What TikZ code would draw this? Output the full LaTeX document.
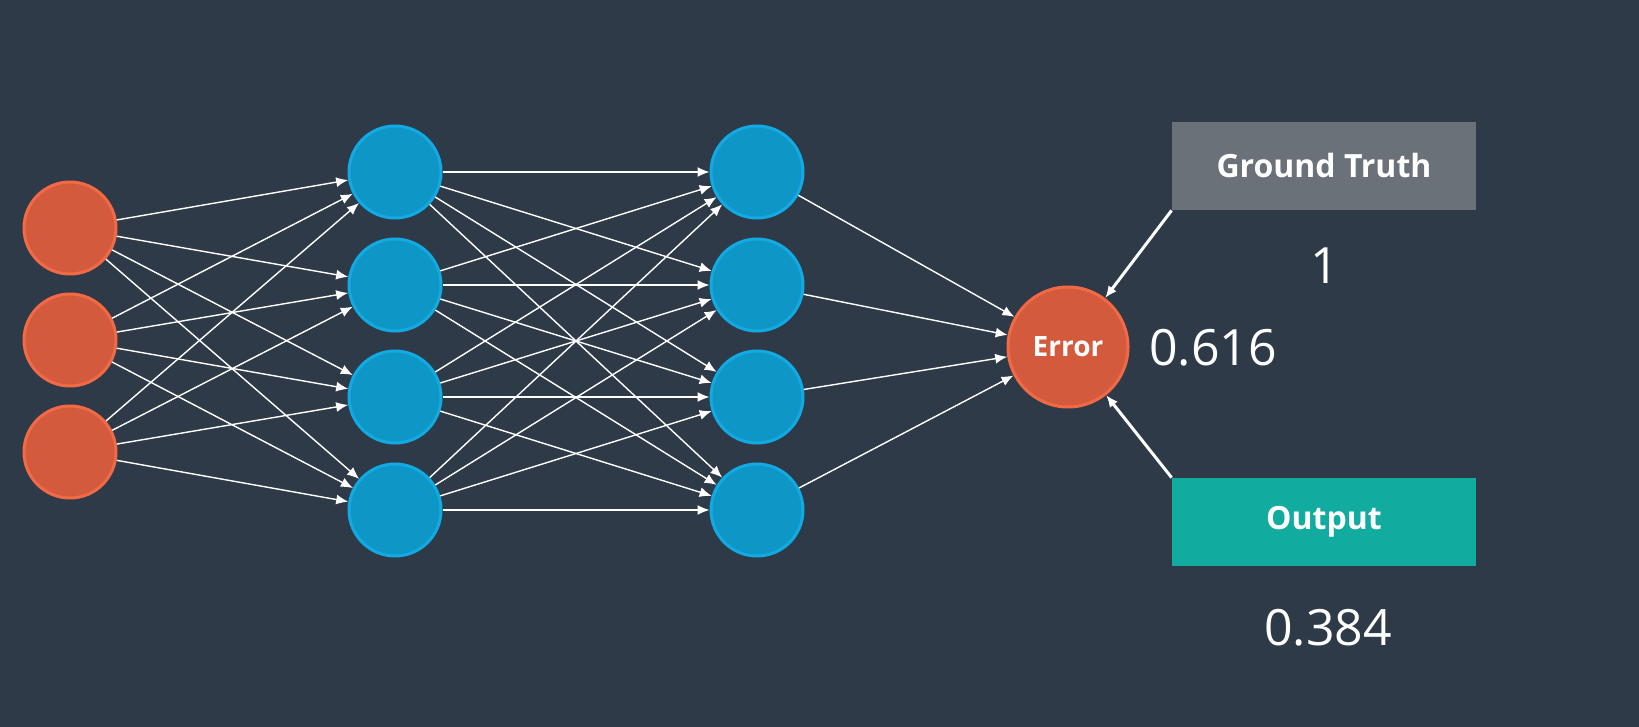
\documentclass[tikz,border=0pt]{standalone}
\usepackage{fontspec}
\setmainfont{Open Sans}
\usetikzlibrary{arrows.meta}
\definecolor{bg}{HTML}{2E3A48}
\definecolor{redfill}{HTML}{D45A3E}
\definecolor{redline}{HTML}{F26A45}
\definecolor{bluefill}{HTML}{0E96C6}
\definecolor{blueline}{HTML}{12AAE2}
\definecolor{truthgray}{HTML}{6A7178}
\definecolor{outteal}{HTML}{11AC9F}
\begin{document}
\begin{tikzpicture}[>={Latex[length=6pt,width=5pt]},x=0.5pt,y=-0.5pt,
inp/.style={circle, draw=redline, line width=1.5pt, fill=redfill, minimum size=46pt, inner sep=0pt},
hid/.style={circle, draw=blueline, line width=1.5pt, fill=bluefill, minimum size=46pt, inner sep=0pt},
err/.style={circle, draw=redline, line width=1.5pt, fill=redfill, minimum size=60pt, inner sep=0pt, text=white, font=\bfseries\fontsize{14}{16}\selectfont},
lbl/.style={rectangle, minimum width=152pt, minimum height=44pt, text=white, font=\bfseries\fontsize{16}{19}\selectfont},
val/.style={text=white, font=\fontsize{25}{29}\selectfont},
link/.style={->, white, line width=0.7pt}]

\fill[bg] (0,0) rectangle (1639,727);

\draw (70,228) node[inp] (I1) {};
\draw (70,340) node[inp] (I2) {};
\draw (70,452) node[inp] (I3) {};
\foreach \k/\y in {1/172,2/285,3/397,4/510}{
  \draw (395,\y) node[hid] (H\k) {};
  \draw (757,\y) node[hid] (K\k) {};
}
\draw (1068,347) node[err] (ER) {Error};
\draw (1324,166) node[lbl, fill=truthgray] (GT) {Ground Truth};
\draw (1324,522) node[lbl, fill=outteal] (OUT) {Output};
\draw (1325,266) node[val] (V1) {1};
\draw (1213,348) node[val] (V2) {0.616};
\draw (1328,628) node[val] (V3) {0.384};

\foreach \i in {1,2,3}
  \foreach \j in {1,2,3,4}
    \draw[link] (I\i)--(H\j);
\foreach \i in {1,2,3,4}
  \foreach \j in {1,2,3,4}
    \draw[link] (H\i)--(K\j);
\foreach \i in {1,2,3,4}
  \draw[link] (K\i)--(ER);
\draw[link, line width=1.5pt] (GT.south west)--(ER);
\draw[link, line width=1.5pt] (OUT.north west)--(ER);
\end{tikzpicture}
\end{document}
